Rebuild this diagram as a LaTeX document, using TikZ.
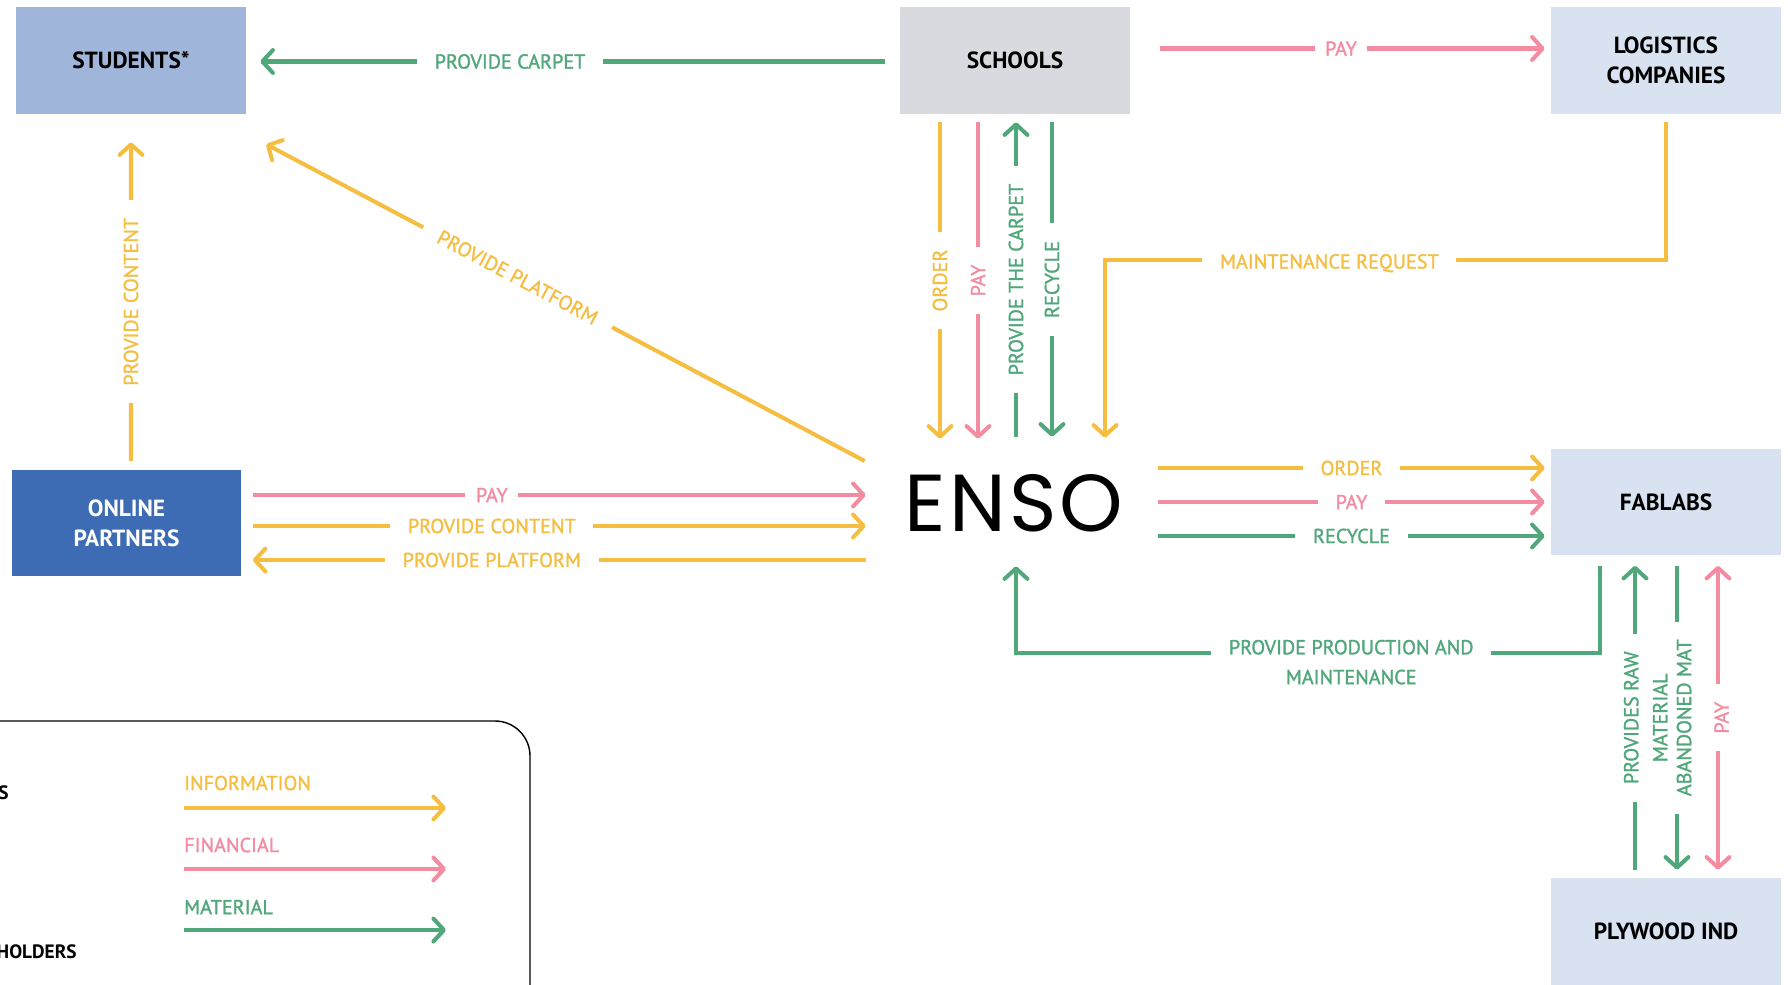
\documentclass[tikz,border=0pt]{standalone}
\usepackage{fontspec}
\setmainfont{PT Sans}
\newfontfamily\labfont[FakeBold=1.3]{PT Sans}
\newfontfamily\ensofont[LetterSpace=4]{Poppins}
\usetikzlibrary{positioning, arrows.meta, calc}

\definecolor{infocol}{HTML}{F5BE41}
\definecolor{fincol}{HTML}{F38BA1}
\definecolor{matcol}{HTML}{4FA77A}
\definecolor{stdblue}{HTML}{9FB5DA}
\definecolor{schgray}{HTML}{D9DADF}
\definecolor{palebox}{HTML}{D8E2F0}
\definecolor{partblue}{HTML}{3D6CB4}

\tikzset{
  box/.style={minimum width=4.6cm, minimum height=2.14cm, inner sep=0pt, align=center,
    font=\bfseries\fontsize{13.3}{17}\selectfont},
  info/.style={infocol, line width=2.3pt},
  fin/.style={fincol, line width=2.3pt},
  mat/.style={matcol, line width=2.3pt},
  lbl/.style={fill=white, inner xsep=10pt, inner ysep=2pt, align=center,
    font=\labfont\fontsize{11.5}{17}\selectfont},
}

\begin{document}
\begin{tikzpicture}[x=0.02cm, y=-0.02cm, >={Straight Barb[length=6pt, width=13pt, round]}]
    \useasboundingbox (0,0) rectangle (1788,984);

    % stakeholders
    \node (students) [box, fill=stdblue] at (131,60.5) {STUDENTS*};
    \node (schools) [box, fill=schgray] at (1015,60.5) {SCHOOLS};
    \node (logistics) [box, fill=palebox] at (1666,60.5) {LOGISTICS\\COMPANIES};
    \node (online) [box, fill=partblue, text=white] at (126.5,523) {ONLINE\\PARTNERS};
    \node (fablabs) [box, fill=palebox] at (1666,502) {FABLABS};
    \node (plywood) [box, fill=palebox] at (1666,931.5) {PLYWOOD IND};
    \node (enso) [minimum width=5.92cm, minimum height=2.56cm, font=\ensofont\fontsize{46}{46}\selectfont] at (1014,503) {ENSO};

    % top row
    \draw[mat, ->] ($(schools.west)+(-15,1)$) -- ($(students.east)+(14,1)$) node[lbl, pos=0.6] {PROVIDE CARPET};
    \draw[fin, ->] ($(schools.east)+(30,-12)$) -- ($(logistics.west)+(-6,-12)$) node[lbl, inner xsep=6pt, pos=0.47] {PAY};

    % schools <-> enso
    \draw[info, ->] ($(schools.south)+(-75,8)$) -- ($(enso.north)+(-74,0)$) node[lbl, rotate=90, midway] {ORDER};
    \draw[fin, ->] ($(schools.south)+(-37,8)$) -- ($(enso.north)+(-36,0)$) node[lbl, rotate=90, midway] {PAY};
    \draw[mat, ->] ($(enso.north)+(2,-2)$) -- ($(schools.south)+(1,8)$) node[lbl, rotate=90, midway] {PROVIDE THE CARPET};
    \draw[mat, ->] ($(schools.south)+(37,8)$) -- ($(enso.north)+(38,-2)$) node[lbl, rotate=90, midway] {RECYCLE};
    \draw[info, ->] ($(logistics.south)+(0,8)$) |- ($(enso.north)+(91,-179)$) node[lbl, pos=0.8, yshift=-2pt] {MAINTENANCE REQUEST} -- ($(enso.north)+(91,-1)$);

    % students side
    \draw[info, ->] ($(enso.west)+(-1,-42)$) -- ($(students.south east)+(20,30)$) node[lbl, sloped, pos=0.58] {PROVIDE PLATFORM};
    \draw[info, ->] ($(online.north)+(4.5,-8)$) -- ($(students.south)+(0,28)$) node[lbl, rotate=90, midway] {PROVIDE CONTENT};

    % online partners <-> enso
    \draw[fin, ->] ($(online.east)+(11,-28)$) -- ($(enso.west)+(0,-8)$) node[lbl, inner xsep=6pt, pos=0.39] {PAY};
    \draw[info, ->] ($(online.east)+(11,3)$) -- ($(enso.west)+(0,23)$) node[lbl, pos=0.39] {PROVIDE CONTENT};
    \draw[info, ->] ($(enso.west)+(0,57)$) -- ($(online.east)+(11,37)$) node[lbl, pos=0.61] {PROVIDE PLATFORM};

    % enso <-> fablabs
    \draw[info, ->] ($(enso.east)+(-4,-35)$) -- ($(fablabs.west)+(-6,-34)$) node[lbl, pos=0.5] {ORDER};
    \draw[fin, ->] ($(enso.east)+(-4,-1)$) -- ($(fablabs.west)+(-6,0)$) node[lbl, pos=0.5] {PAY};
    \draw[mat, ->] ($(enso.east)+(-4,33)$) -- ($(fablabs.west)+(-6,34)$) node[lbl, pos=0.5] {RECYCLE};
    \draw[mat, ->] ($(fablabs.south)+(-66,10)$) |- ($(enso.south)+(2,86)$) node[lbl, pos=0.713, yshift=-5pt] {PROVIDE PRODUCTION AND\\MAINTENANCE} -- ($(enso.south)+(2,-1)$);

    % fablabs <-> plywood
    \draw[mat, ->] ($(plywood.north)+(-31,-8)$) -- ($(fablabs.south)+(-31,10)$) node[lbl, xshift=6pt, rotate=90, midway, inner ysep=1pt, font=\labfont\fontsize{11.5}{16.5}\selectfont] {PROVIDES RAW\\MATERIAL};
    \draw[mat, ->] ($(fablabs.south)+(11,10)$) -- ($(plywood.north)+(11,-8)$) node[lbl, xshift=4pt, rotate=90, midway, inner ysep=1pt] {ABANDONED MAT};
    \draw[fin, <->] ($(fablabs.south)+(52,10)$) -- ($(plywood.north)+(52,-8)$) node[lbl, xshift=2pt, rotate=90, midway, inner ysep=1pt] {PAY};

    % legend
    \draw[line width=0.8pt, rounded corners=0.7cm] (-60,721) rectangle (530,1100);
    \node[anchor=east, inner sep=0pt, font=\bfseries\fontsize{11}{14}\selectfont] (keyA) at (9,793) {S};
    \node[anchor=east, inner sep=0pt, font=\bfseries\fontsize{11}{14}\selectfont] (keyB) at (77,952) {HOLDERS};
    \node (infokey) [anchor=west, text=infocol, font=\labfont\fontsize{11.5}{14}\selectfont] at (178,783) {INFORMATION};
    \node (finkey) [anchor=west, text=fincol, font=\labfont\fontsize{11.5}{14}\selectfont] at (178,845) {FINANCIAL};
    \node (matkey) [anchor=west, text=matcol, font=\labfont\fontsize{11.5}{14}\selectfont] at (178,907) {MATERIAL};
    \draw[info, ->] ($(infokey.west)+(6,25)$) -- ++(262,0);
    \draw[fin, ->] ($(finkey.west)+(6,24)$) -- ++(262,0);
    \draw[mat, ->] ($(matkey.west)+(6,23)$) -- ++(262,0);
\end{tikzpicture}
\end{document}
